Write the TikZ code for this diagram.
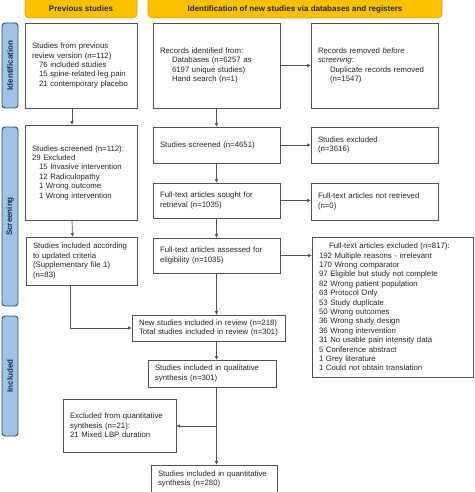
\documentclass[tikz,border=0pt]{standalone}
\usepackage{fontspec}
\setmainfont{Liberation Sans}
\usetikzlibrary{arrows.meta,calc}
\definecolor{gold}{HTML}{FFC000}
\definecolor{goldline}{HTML}{D9A300}
\definecolor{sidefill}{HTML}{9DC3E6}
\definecolor{sideline}{HTML}{2E4A7A}
\definecolor{boxline}{HTML}{505050}
\definecolor{txt}{HTML}{262626}
\newcommand\ind{\hspace*{7pt}}
\newcommand\myln[1]{\mbox{#1}}
\newcommand\mybx[7][]{%
  \pgfmathsetmacro\bw{#5-#3}\pgfmathsetmacro\bh{#6-#4}\pgfmathsetmacro\tw{#5-#3-14}%
  \node[boxst,minimum width=\bw pt,minimum height=\bh pt,text width=\tw pt,#1] (#2) at ({(#3+#5)/2},{(#4+#6)/2}) {#7};}
\tikzset{
  boxst/.style={draw=boxline,line width=0.9pt,fill=white,align=left,inner xsep=7pt,inner ysep=0pt,
    font=\fontsize{7.8}{9.4}\selectfont,text=txt,outer sep=0pt},
  hdr/.style={draw=goldline,fill=gold,rounded corners=4pt,line width=0.6pt},
  side/.style={draw=sideline,fill=sidefill,rounded corners=3pt,line width=0.9pt},
  sidetxt/.style={rotate=90,font=\bfseries\fontsize{8}{9}\selectfont,text=sideline!60!black},
  arr/.style={draw=boxline,line width=0.7pt,-{Latex[length=4pt,width=3.5pt]}},
}
\begin{document}
\begin{tikzpicture}[x=1pt,y=-1pt]
\useasboundingbox (0,0) rectangle (474,492);
% headers
\draw[hdr] (25,-6) rectangle (137,18);
\node[font=\bfseries\fontsize{8}{9}\selectfont,text=txt] (h1) at (81,9) {Previous studies};
\draw[hdr] (148,-6) rectangle (442,18);
\node[font=\bfseries\fontsize{8}{9}\selectfont,text=txt] (h2) at (295,9) {Identification of new studies via databases and registers};
% side bars
\draw[side] (2,23) rectangle (18,108);
\node[sidetxt] (s1) at (10,65.5) {Identification};
\draw[side] (2,127) rectangle (18,306);
\node[sidetxt] (s2) at (10,216.5) {Screening};
\draw[side] (2,316) rectangle (18,436);
\node[sidetxt] (s3) at (10,376) {Included};
% previous studies column
\mybx{pb1}{25}{23}{137}{108}{\myln{Studies from previous}\\ \myln{review version (n=112)}\\ \ind\myln{76 included studies}\\ \ind\myln{15 spine-related leg pain}\\ \ind\myln{21 contemporary placebo}}
\mybx{pb2}{25}{125}{137}{220}{\myln{Studies screened (n=112):}\\ 29 Excluded\\ \ind\myln{15 Invasive intervention}\\ \ind 12 Radiculopathy\\ \ind 1 Wrong outcome\\ \ind\myln{1 Wrong intervention}\\[6pt]}
\mybx{pb3}{26}{237}{137}{285}{\myln{Studies included according}\\ to updated criteria\\ \myln{(Supplementary file 1)}\\ (n=83)}
% identification column
\mybx{rec}{153}{23}{280}{108}{\myln{Records identified from:}\\ \hspace*{12pt}\myln{Databases (n=6257 as}\\ \hspace*{12pt}\myln{6197 unique studies)}\\ \hspace*{12pt}\myln{Hand search (n=1)}}
\mybx{rem}{311}{23}{438}{108}{\myln{Records removed \textit{before}}\\ \textit{screening}:\\ \hspace*{12pt}\myln{Duplicate records removed}\\ \hspace*{12pt}(n=1547)}
\mybx{scr}{153}{127}{280}{163}{\myln{Studies screened (n=4651)}}
\mybx{exa}{311}{127}{438}{163}{Studies excluded\\ (n=3616)}
\mybx{sou}{153}{183}{280}{218}{\myln{Full-text articles sought for}\\ retrieval (n=1035)}
\mybx{nre}{311}{183}{438}{220}{\myln{Full-text articles not retrieved}\\ (n=0)}
\mybx{ass}{153}{238}{280}{273}{\myln{Full-text articles assessed for}\\ eligibility (n=1035)}
\mybx{exb}{312}{237}{473}{377}{\hspace*{10pt}\myln{Full-text articles excluded (n=817):}\\ \myln{192 Multiple reasons - irrelevant}\\ 170 Wrong comparator\\ \myln{97 Eligible but study not complete}\\ \myln{82 Wrong patient population}\\ 63 Protocol Only\\ 53 Study duplicate\\ 50 Wrong outcomes\\ 36 Wrong study design\\ 36 Wrong intervention\\ \myln{31 No usable pain intensity data}\\ 5 Conference abstract\\ 1 Grey literature\\ \myln{1 Could not obtain translation}}
% included
\mybx{new}{132}{315}{285}{341}{\myln{New studies included in review (n=218)}\\ \myln{Total studies included in review (n=301)}}
\mybx{qual}{148}{360}{276}{387}{\myln{Studies included in qualitative}\\ synthesis (n=301)}
\mybx{exq}{63}{399}{176}{452}{\myln{Excluded from quantitative}\\ synthesis (n=21):\\ \myln{21 Mixed LBP duration}}
\mybx{fin}{151}{465}{277}{493}{\myln{Studies included in quantitative}\\ synthesis (n=280)}
% connectors
\draw[arr] ($(pb1.south)+(-9,0)$) -- ($(pb2.north)+(-9,0)$);
\draw[arr] ($(pb2.south)+(-9,0)$) -- ($(pb3.north)+(-9,0)$);
\draw[arr] ($(pb3.south)+(-11,0)$) |- (new.west);
\draw[arr] (rec.south) -- (scr.north);
\draw[arr] (scr.south) -- (sou.north);
\draw[arr] (sou.south) -- (ass.north);
\draw[arr] (ass.south) -- (new.north -| ass.south);
\draw[arr] (new.south -| ass.south) -- (qual.north -| ass.south);
\draw[arr] (qual.south -| ass.south) -- (fin.north -| ass.south);
\coordinate (br) at ($(qual.south -| ass.south)!0.5!(fin.north -| ass.south)$);
\draw[arr] (br) -- (br -| exq.east);
\draw[arr] (rec.east) -- (rem.west);
\draw[arr] (scr.east) -- (exa.west);
\draw[arr] (sou.east) -- (sou.east -| nre.west);
\draw[arr] (ass.east) -- (ass.east -| exb.west);
\end{tikzpicture}
\end{document}
